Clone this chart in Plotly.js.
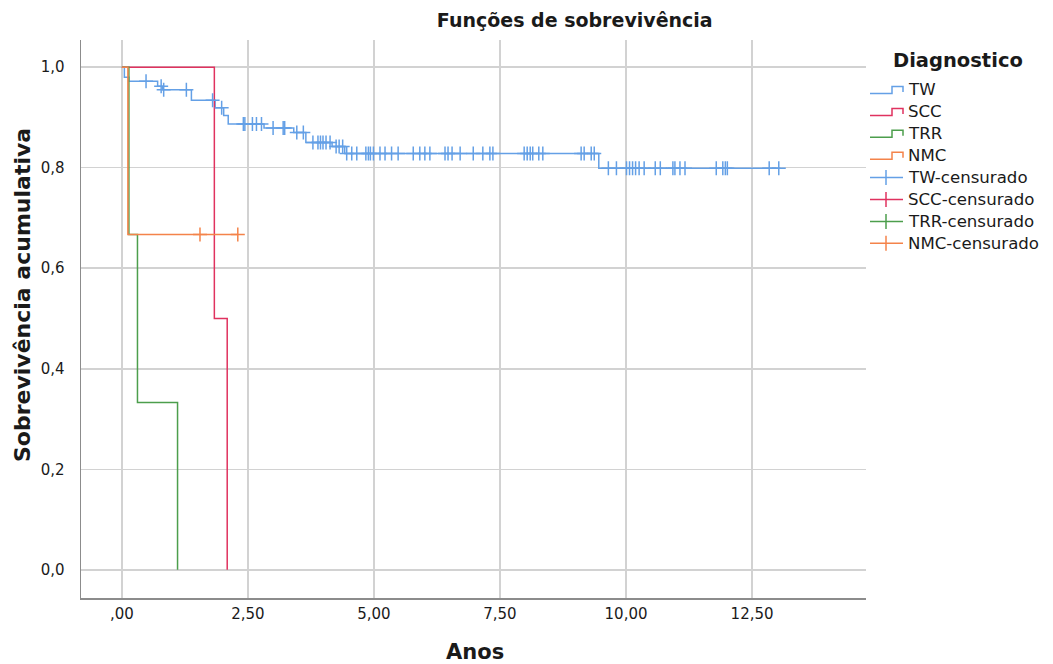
<!DOCTYPE html>
<html>
<head>
<meta charset="utf-8">
<script src="https://cdn.plot.ly/plotly-3.0.1.min.js"></script>
<style>
  html, body { margin: 0; padding: 0; background: #ffffff; }
  #chart { width: 1053px; height: 664px; }
</style>
</head>
<body>
<div id="chart"></div>
<script>
// ---- Data ----
// Kaplan-Meier step points (time in years, cumulative survival)
const twTime = [0, 0.05, 0.14, 0.71, 0.81, 1.38, 1.85, 2.02, 2.11, 2.82, 3.41, 3.65, 4.17, 4.42, 9.46, 13.06];
const twSurv = [1.0, 0.980, 0.972, 0.962, 0.955, 0.934, 0.919, 0.904, 0.887, 0.879, 0.870, 0.850, 0.842, 0.828, 0.799, 0.799];

const sccTime = [0, 1.835, 2.09];
const sccSurv = [1.0, 0.5, 0.0];

const trrTime = [0, 0.14, 0.31, 1.105];
const trrSurv = [1.0, 0.667, 0.333, 0.0];

const nmcTime = [0, 0.12, 2.30];
const nmcSurv = [1.0, 0.667, 0.667];

// Censored observation times
const twCensTime = [0.48, 0.78, 0.83, 1.28, 1.80, 1.98,
  2.41, 2.44, 2.59, 2.67, 2.77, 3.00, 3.20, 3.23, 3.47, 3.60,
  3.79, 3.89, 3.94, 3.99, 4.05, 4.13, 4.25, 4.31, 4.38,
  4.46, 4.56, 4.66, 4.84, 4.89, 4.93, 4.99, 5.12, 5.22, 5.35, 5.48,
  5.78, 5.91, 6.01, 6.11, 6.41, 6.47, 6.55, 6.71, 6.97, 7.16, 7.30, 7.36,
  7.98, 8.04, 8.10, 8.15, 8.27, 8.35, 9.11, 9.17, 9.31, 9.37,
  9.65, 9.81, 10.01, 10.07, 10.13, 10.19, 10.26, 10.36, 10.58, 10.68,
  10.93, 10.97, 11.07, 11.17, 11.79, 11.92, 11.97, 12.01, 12.84, 13.03];
const sccCensTime = [];
const trrCensTime = [];
const nmcCensTime = [1.55, 2.30];

// Axis ticks
const xTickVals = [0, 2.5, 5, 7.5, 10, 12.5];
const xTickText = [',00', '2,50', '5,00', '7,50', '10,00', '12,50'];
const yTickVals = [0, 0.2, 0.4, 0.6, 0.8, 1.0];
const yTickText = ['0,0', '0,2', '0,4', '0,6', '0,8', '1,0'];

// Series names and colours
const names = ['TW', 'SCC', 'TRR', 'NMC'];
const colors = ['#64a0e6', '#e0325f', '#4c9e4c', '#f4834a'];
const legendTitle = 'Diagnostico';
const censSuffix = '-censurado';
const yTitle = 'Sobrevivência acumulativa';
const xTitle = 'Anos';

// ---- Helpers ----
function survAt(times, surv, t) {
  let s = surv[0];
  for (let i = 0; i < times.length; i++) {
    if (times[i] <= t) s = surv[i];
  }
  return s;
}

const curves = [
  [twTime, twSurv, twCensTime],
  [sccTime, sccSurv, sccCensTime],
  [trrTime, trrSurv, trrCensTime],
  [nmcTime, nmcSurv, nmcCensTime]
];

const FONT = 'DejaVu Sans, Liberation Sans, sans-serif';
const TXT = '#1a1a1a';
const traces = [];
curves.forEach(function (c, i) {
  traces.push({
    x: c[0], y: c[1], type: 'scatter', mode: 'lines',
    line: { shape: 'hv', color: colors[i], width: 1.5 },
    name: names[i], hoverinfo: 'skip', showlegend: false
  });
});
curves.forEach(function (c, i) {
  if (!c[2].length) return;
  traces.push({
    x: c[2],
    y: c[2].map(function (t) { return survAt(c[0], c[1], t); }),
    type: 'scatter', mode: 'markers',
    marker: { symbol: 'cross-thin-open', size: 10, color: colors[i], line: { color: colors[i], width: 1.5 } },
    name: names[i] + censSuffix, hoverinfo: 'skip', showlegend: false
  });
});

// ---- Custom legend (step icons like the reference) ----
const W = 1053, H = 664, ML = 81, MR = 187, MT = 40, MB = 66;
const PW = W - ML - MR, PH = H - MT - MB;
function px2x(px) { return (px - ML) / PW; }
function py2y(py) { return (H - MB - py) / PH; }

const annotations = [];
const shapes = [];
annotations.push({
  text: '<b>' + yTitle + '</b>', xref: 'paper', yref: 'paper',
  x: px2x(22), y: py2y(295), xanchor: 'center', yanchor: 'middle', showarrow: false,
  textangle: -90, font: { family: FONT, size: 22, color: TXT }
});
annotations.push({
  text: '<b>' + xTitle + '</b>', xref: 'paper', yref: 'paper',
  x: px2x(475), y: py2y(652), xanchor: 'center', yanchor: 'middle', showarrow: false,
  borderpad: 0, font: { family: FONT, size: 21, color: TXT }
});
annotations.push({
  text: '<b>' + legendTitle + '</b>', xref: 'paper', yref: 'paper',
  x: px2x(958), y: py2y(60), xanchor: 'center', yanchor: 'middle', showarrow: false,
  font: { family: FONT, size: 19.5, color: TXT }
});
const rowY0 = 90, rowStep = 21.9;
const labels = names.concat(names.map(function (n) { return n + censSuffix; }));
labels.forEach(function (lab, k) {
  const cy = rowY0 + k * rowStep;
  const col = colors[k % 4];
  annotations.push({
    text: lab, xref: 'paper', yref: 'paper',
    x: px2x(906), y: py2y(cy), xanchor: 'left', yanchor: 'middle', showarrow: false,
    font: { family: FONT, size: 16.6, color: TXT }
  });
  if (k < 4) {
    const path = 'M ' + px2x(870) + ' ' + py2y(cy + 3.5) +
      ' L ' + px2x(892) + ' ' + py2y(cy + 3.5) +
      ' L ' + px2x(892) + ' ' + py2y(cy - 3.5) +
      ' L ' + px2x(903) + ' ' + py2y(cy - 3.5) +
      ' L ' + px2x(903) + ' ' + py2y(cy + 2);
    shapes.push({ type: 'path', xref: 'paper', yref: 'paper', path: path,
      line: { color: col, width: 1.5 } });
  } else {
    shapes.push({ type: 'line', xref: 'paper', yref: 'paper',
      x0: px2x(870), x1: px2x(903), y0: py2y(cy), y1: py2y(cy),
      line: { color: col, width: 1.5 } });
    shapes.push({ type: 'line', xref: 'paper', yref: 'paper',
      x0: px2x(886), x1: px2x(886), y0: py2y(cy - 7.5), y1: py2y(cy + 7.5),
      line: { color: col, width: 1.5 } });
  }
});

const layout = {
  width: W, height: H,
  paper_bgcolor: '#ffffff', plot_bgcolor: '#ffffff',
  margin: { l: ML, r: MR, t: MT, b: MB },
  font: { family: FONT, color: TXT, size: 15 },
  title: {
    text: '<b>Funções de sobrevivência</b>',
    font: { family: FONT, size: 19, color: TXT },
    xref: 'paper', x: 0.629, xanchor: 'center',
    yref: 'container', y: 0.969, yanchor: 'middle'
  },
  xaxis: {
    range: [-0.81, 14.76],
    tickmode: 'array', tickvals: xTickVals, ticktext: xTickText,
    showgrid: true, gridcolor: '#d2d2d2', gridwidth: 1.5,
    zeroline: false, showline: true, linecolor: '#8c8c8c', linewidth: 1.5,
    ticks: '', ticklabelstandoff: 1,
    tickfont: { family: FONT, size: 15, color: TXT }
  },
  yaxis: {
    range: [-0.056, 1.054],
    tickmode: 'array', tickvals: yTickVals, ticktext: yTickText,
    showgrid: true, gridcolor: '#d2d2d2', gridwidth: 1.5,
    zeroline: false, showline: true, linecolor: '#8c8c8c', linewidth: 1.5,
    ticks: '', ticklabelstandoff: 12,
    tickfont: { family: FONT, size: 15, color: TXT }
  },
  showlegend: false,
  annotations: annotations,
  shapes: shapes
};

Plotly.newPlot('chart', traces, layout, { displayModeBar: false, staticPlot: true });
</script>
</body>
</html>
